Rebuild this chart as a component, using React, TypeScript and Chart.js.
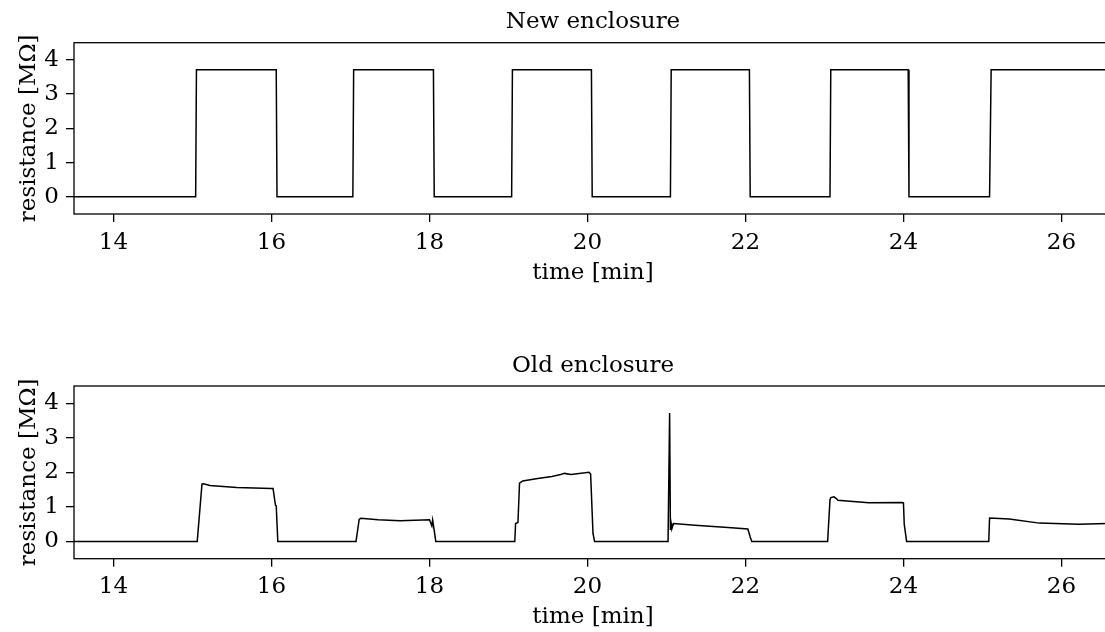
import React, { useEffect, useRef } from "react";
import { Chart, registerables } from "chart.js";

Chart.register(...registerables);

// ---- data ----
const xTicks = [14, 16, 18, 20, 22, 24, 26];
const yTicks = [0, 1, 2, 3, 4];
const xRange = [13.5, 26.64];
const yRange = [-0.5, 4.5];

const newTime = [13.5, 15.04, 15.05, 16.06, 16.07, 17.03, 17.04, 18.05, 18.06, 19.04, 19.05, 20.05, 20.06, 21.05, 21.06, 22.05, 22.06, 23.07, 23.08, 24.06, 24.07, 25.09, 25.11, 26.8];
const newRes = [0, 0, 3.71, 3.71, 0, 0, 3.71, 3.71, 0, 0, 3.71, 3.71, 0, 0, 3.71, 3.71, 0, 0, 3.71, 3.71, 0, 0, 3.71, 3.71];

const oldTime = [
  13.5, 15.06, 15.12, 15.14, 15.22, 15.56, 16.0, 16.02, 16.05, 16.06, 16.08,
  17.07, 17.11, 17.13, 17.35, 17.63, 18.0, 18.03, 18.04, 18.05, 18.08,
  19.08, 19.09, 19.12, 19.14, 19.18, 19.37, 19.55, 19.66, 19.71, 19.79, 20.02, 20.04, 20.07, 20.09,
  21.02, 21.04, 21.05, 21.06, 21.07, 21.09, 21.36, 21.78, 22.03, 22.06, 22.08,
  23.04, 23.07, 23.08, 23.12, 23.15, 23.17, 23.56, 23.98, 24.0, 24.01, 24.04,
  25.08, 25.09, 25.34, 25.72, 26.22, 26.58, 26.8,
];
const oldRes = [
  0, 0, 1.66, 1.67, 1.62, 1.56, 1.53, 1.53, 1.05, 1.03, 0,
  0, 0.64, 0.67, 0.63, 0.6, 0.63, 0.45, 0.62, 0.47, 0,
  0, 0.52, 0.55, 1.69, 1.75, 1.82, 1.88, 1.94, 1.97, 1.94, 2.0, 1.95, 0.23, 0,
  0, 3.72, 0.33, 0.52, 0.38, 0.52, 0.47, 0.4, 0.36, 0.13, 0,
  0, 1.2, 1.27, 1.29, 1.24, 1.19, 1.12, 1.13, 1.12, 0.5, 0,
  0, 0.68, 0.65, 0.53, 0.5, 0.52, 0.52,
];

const titles = ["New enclosure", "Old enclosure"];
const xLabel = "time [min]";
const yLabel = "resistance [MΩ]";

const FONT = "'DejaVu Serif', serif";
const FS = 23;

const framePlugin = {
  id: "frame",
  afterDatasetsDraw(chart: any) {
    const { ctx, chartArea } = chart;
    ctx.save();
    ctx.strokeStyle = "#000";
    ctx.lineWidth = 1.3;
    ctx.strokeRect(chartArea.left, chartArea.top, chartArea.right - chartArea.left, chartArea.bottom - chartArea.top);
    ctx.restore();
  },
};

type Layout = {
  titleTop: number;
  titleBottom: number;
  xBoxHeight: number;
  xTitlePad: number;
};

function makeChart(canvas: HTMLCanvasElement, time: number[], res: number[], title: string, L: Layout) {
  const pts = time.map((t, i) => ({ x: t, y: res[i] }));
  return new Chart(canvas, {
    type: "line",
    data: {
      datasets: [
        {
          data: pts,
          borderColor: "#000",
          borderWidth: 1.5,
          pointRadius: 0,
          tension: 0,
          fill: false,
        },
      ],
    },
    plugins: [framePlugin],
    options: {
      animation: false,
      responsive: false,
      devicePixelRatio: 1,
      layout: { padding: { left: 0, right: 18, top: 0, bottom: 0 } },
      plugins: {
        legend: { display: false },
        tooltip: { enabled: false },
        title: {
          display: true,
          fullSize: false,
          text: title,
          color: "#000",
          font: { family: FONT, size: FS, weight: "normal" },
          padding: { top: L.titleTop, bottom: L.titleBottom },
        },
      },
      scales: {
        x: {
          type: "linear",
          min: xRange[0],
          max: xRange[1],
          afterBuildTicks: (scale: any) => {
            scale.ticks = xTicks.map((v) => ({ value: v }));
          },
          afterFit: (scale: any) => {
            scale.height = L.xBoxHeight;
          },
          border: { display: false },
          grid: { display: true, drawOnChartArea: false, drawTicks: true, tickLength: 8, color: "#000", lineWidth: 1.3 },
          ticks: {
            color: "#000",
            padding: 7,
            maxRotation: 0,
            autoSkip: false,
            font: { family: FONT, size: FS },
            callback: (v: any) => String(v),
          },
          title: {
            display: true,
            text: xLabel,
            color: "#000",
            font: { family: FONT, size: FS },
            padding: { top: 0, bottom: L.xTitlePad },
          },
        },
        y: {
          type: "linear",
          min: yRange[0],
          max: yRange[1],
          afterBuildTicks: (scale: any) => {
            scale.ticks = yTicks.map((v) => ({ value: v }));
          },
          afterFit: (scale: any) => {
            scale.width = 74;
          },
          border: { display: false },
          grid: { display: true, drawOnChartArea: false, drawTicks: true, tickLength: 8, color: "#000", lineWidth: 1.3 },
          ticks: {
            color: "#000",
            padding: 7,
            autoSkip: false,
            font: { family: FONT, size: FS },
            callback: (v: any) => String(v),
          },
          title: {
            display: true,
            text: yLabel,
            color: "#000",
            font: { family: FONT, size: FS },
            padding: { top: 15, bottom: 0 },
          },
        },
      },
    } as any,
  });
}

export default function App() {
  const ref1 = useRef<HTMLCanvasElement>(null);
  const ref2 = useRef<HTMLCanvasElement>(null);
  useEffect(() => {
    const c1 = makeChart(ref1.current!, newTime, newRes, titles[0], {
      titleTop: 8.2,
      titleBottom: 6.9,
      xBoxHeight: 102,
      xTitlePad: 29.2,
    });
    const c2 = makeChart(ref2.current!, oldTime, oldRes, titles[1], {
      titleTop: 36.7,
      titleBottom: 5.7,
      xBoxHeight: 73.3,
      xTitlePad: 1.2,
    });
    return () => {
      c1.destroy();
      c2.destroy();
    };
  }, []);
  return (
    <div style={{ position: "fixed", left: 0, top: 0, width: 1105, height: 632, overflow: "hidden", background: "#fff" }}>
      <canvas ref={ref1} width={1130} height={316} style={{ position: "absolute", left: 0, top: 0 }} />
      <canvas ref={ref2} width={1130} height={316} style={{ position: "absolute", left: 0, top: 316 }} />
    </div>
  );
}
